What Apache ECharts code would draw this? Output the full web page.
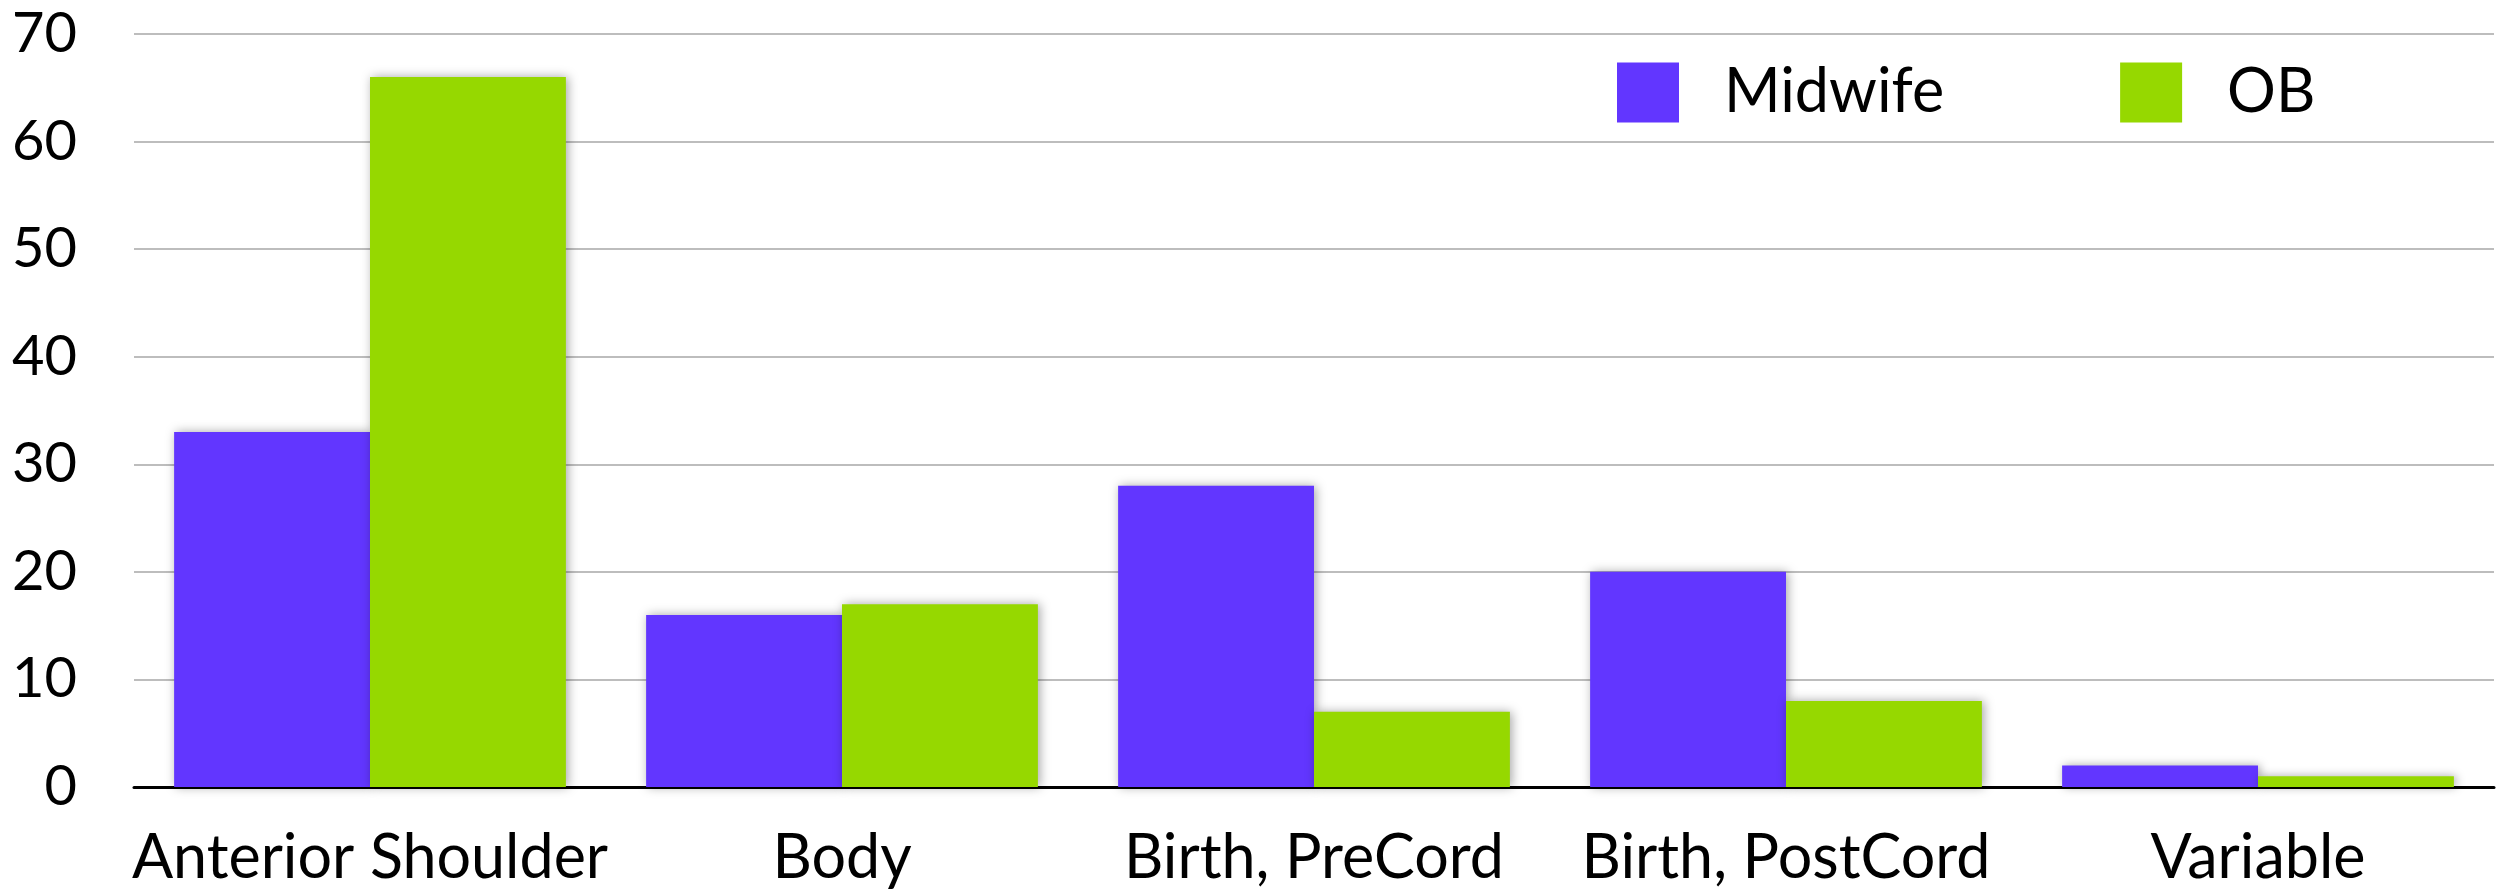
<!DOCTYPE html>
<html>
<head>
<meta charset="utf-8">
<style>
  html, body { margin: 0; padding: 0; background: #fff; }
  #chart { width: 2509px; height: 892px; }
</style>
<script src="https://cdn.jsdelivr.net/npm/echarts@6/dist/echarts.min.js"></script>
</head>
<body>
<div id="chart"></div>
<script>
// Timing of delivery event, by provider type
const categories = ['Anterior Shoulder', 'Body', 'Birth, PreCord', 'Birth, PostCord', 'Variable'];
const midwifeValues = [33, 16, 28, 20, 2];
const obValues = [66, 17, 7, 8, 1];
const seriesNames = ['Midwife', 'OB'];

const FONT = 'Lato, "DejaVu Sans", sans-serif';
const barShadow = {
  shadowBlur: 10,
  shadowColor: 'rgba(0,0,0,0.35)',
  shadowOffsetX: 2,
  shadowOffsetY: 0
};

const chart = echarts.init(document.getElementById('chart'));
chart.setOption({
  animation: false,
  backgroundColor: '#ffffff',
  grid: { left: 134, right: 15, top: 34, bottom: 105, containLabel: false },
  legend: {
    data: seriesNames,
    left: 1612,
    top: 57,
    itemWidth: 62,
    itemHeight: 60,
    itemGap: 176,
    icon: 'rect',
    textStyle: {
      fontFamily: FONT,
      fontSize: 61,
      color: '#000',
      padding: [0, 0, 0, 40]
    }
  },
  xAxis: {
    type: 'category',
    data: categories,
    axisTick: { show: false },
    axisLine: { lineStyle: { color: '#000', width: 3 } },
    axisLabel: {
      fontFamily: FONT,
      fontSize: 61,
      color: '#000',
      margin: 41,
      interval: 0
    }
  },
  yAxis: {
    type: 'value',
    min: 0,
    max: 70,
    interval: 10,
    axisLine: { show: false },
    axisTick: { show: false },
    axisLabel: {
      fontFamily: FONT,
      fontSize: 56,
      color: '#000',
      margin: 57
    },
    splitLine: { lineStyle: { color: '#bdbdbd', width: 2 } }
  },
  series: [
    {
      name: seriesNames[0],
      type: 'bar',
      data: midwifeValues,
      barGap: '0%',
      barCategoryGap: '17%',
      itemStyle: Object.assign({ color: '#6236ff' }, barShadow)
    },
    {
      name: seriesNames[1],
      type: 'bar',
      data: obValues,
      barGap: '0%',
      barCategoryGap: '17%',
      itemStyle: Object.assign({ color: '#96d800' }, barShadow)
    }
  ]
});
</script>
</body>
</html>
